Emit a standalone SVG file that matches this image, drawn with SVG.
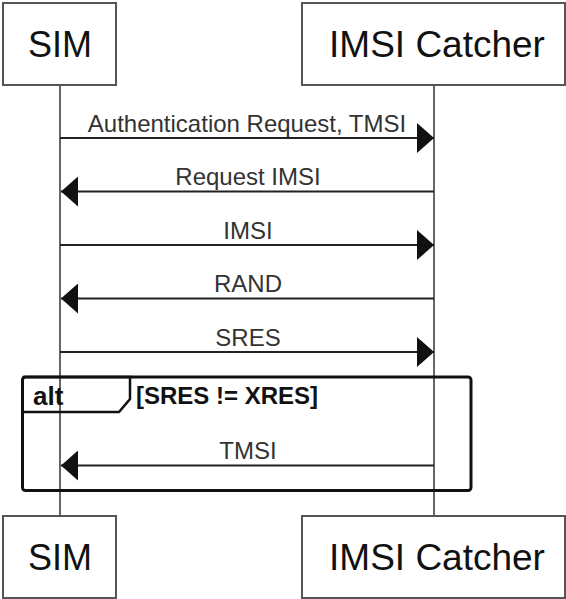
<svg xmlns="http://www.w3.org/2000/svg" width="566" height="599" viewBox="0 0 566 599">
<style>
.actor rect{fill:#fff;stroke:#555;stroke-width:2}
.actor text{font-family:"Liberation Sans",Arial,sans-serif;font-size:36px;fill:#111;text-anchor:middle}
.life{stroke:#333;stroke-width:1.5}
.msg line{stroke:#222;stroke-width:2}
.lbl{font-family:"Liberation Sans",Arial,sans-serif;font-size:24px;fill:#333;text-anchor:middle}
.frame{fill:none;stroke:#111;stroke-width:3}
.ft{font-family:"Liberation Sans",Arial,sans-serif;font-size:24px;font-weight:bold;fill:#111}
</style>
<defs>
<marker id="ah" markerUnits="userSpaceOnUse" markerWidth="17" markerHeight="30" refX="17" refY="15" orient="auto" viewBox="0 0 17 30">
<path d="M0,0 L17,15 L0,30 z" fill="#111"/>
</marker>
</defs>
<g id="lifelines">
<line class="life" x1="60" y1="85" x2="60" y2="516"/>
<line class="life" x1="434" y1="85" x2="434" y2="516"/>
</g>
<g id="sim-top" class="actor"><rect x="3" y="3" width="113" height="82"/><text x="60" y="57">SIM</text></g>
<g id="imsi-top" class="actor"><rect x="302" y="3" width="263" height="82"/><text x="437" y="57" style="font-size:37px">IMSI Catcher</text></g>
<g id="sim-bottom" class="actor"><rect x="3" y="516" width="113" height="82"/><text x="60" y="570">SIM</text></g>
<g id="imsi-bottom" class="actor"><rect x="302" y="516" width="263" height="82"/><text x="437" y="570" style="font-size:37px">IMSI Catcher</text></g>
<g id="alt-frame">
<rect class="frame" x="22.5" y="377" width="448.5" height="113.5" rx="3"/>
<path d="M22.5,377 H130 V399 L119,412 H22.5" fill="none" stroke="#111" stroke-width="2.5"/>
<text class="ft" x="33" y="405" style="font-size:26px">alt</text>
<text class="ft" x="136" y="404">[SRES != XRES]</text>
</g>
<g id="connectors" class="msg">
<line x1="60" y1="138" x2="434" y2="138" marker-end="url(#ah)"/>
<line x1="434" y1="191.5" x2="61" y2="191.5" marker-end="url(#ah)"/>
<line x1="60" y1="245" x2="434" y2="245" marker-end="url(#ah)"/>
<line x1="434" y1="298.5" x2="61" y2="298.5" marker-end="url(#ah)"/>
<line x1="60" y1="352" x2="434" y2="352" marker-end="url(#ah)"/>
<line x1="434" y1="465.5" x2="61" y2="465.5" marker-end="url(#ah)"/>
</g>
<g id="labels">
<text class="lbl" x="247" y="132">Authentication Request, TMSI</text>
<text class="lbl" x="248" y="185">Request IMSI</text>
<text class="lbl" x="248" y="239">IMSI</text>
<text class="lbl" x="248" y="292">RAND</text>
<text class="lbl" x="248" y="346">SRES</text>
<text class="lbl" x="248" y="459">TMSI</text>
</g>
</svg>
